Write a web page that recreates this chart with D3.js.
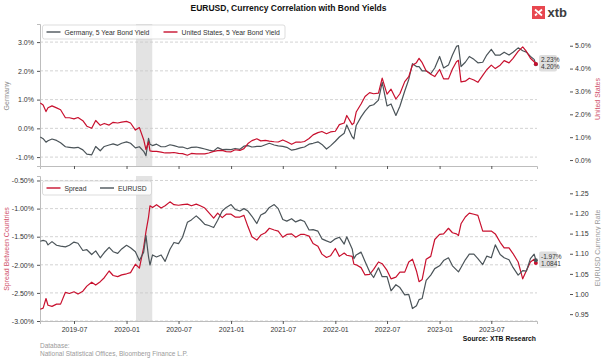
<!DOCTYPE html>
<html><head><meta charset="utf-8">
<script src="https://cdn.jsdelivr.net/npm/d3@7/dist/d3.min.js"></script>
<style>
body{margin:0;background:#fff;}
svg{display:block;font-family:"Liberation Sans",Arial,sans-serif;}
</style>
</head><body>
<svg id="chart" width="601" height="358"></svg>
<script>
// ---------- DATA ----------
const dates = ["2019-03-05","2019-03-15","2019-03-25","2019-04-01","2019-04-15","2019-05-01","2019-05-15","2019-06-01","2019-06-15","2019-07-01","2019-07-15","2019-08-01","2019-08-15","2019-09-01","2019-09-15","2019-10-01","2019-10-15","2019-11-01","2019-11-15","2019-12-01","2019-12-15",
"2020-01-01","2020-01-15","2020-02-01","2020-02-15","2020-03-01","2020-03-09","2020-03-18","2020-03-23","2020-04-01","2020-04-15","2020-05-01","2020-05-15","2020-06-01","2020-06-15","2020-07-01","2020-07-15","2020-08-01","2020-08-15","2020-09-01","2020-09-15","2020-10-01","2020-10-15","2020-11-01","2020-11-15","2020-12-01","2020-12-15",
"2021-01-01","2021-01-15","2021-02-01","2021-02-15","2021-03-01","2021-03-15","2021-04-01","2021-04-15","2021-05-01","2021-05-15","2021-06-01","2021-06-15","2021-07-01","2021-07-15","2021-08-01","2021-08-15","2021-09-01","2021-09-15","2021-10-01","2021-10-15","2021-11-01","2021-11-15","2021-12-01","2021-12-15",
"2022-01-01","2022-01-15","2022-02-01","2022-02-10","2022-03-01","2022-03-07","2022-03-15","2022-04-01","2022-04-15","2022-05-01","2022-05-15","2022-06-01","2022-06-14","2022-07-01","2022-07-15","2022-08-01","2022-08-15","2022-09-01","2022-09-15","2022-09-28","2022-10-12","2022-10-21","2022-11-01","2022-11-15","2022-12-01","2022-12-15",
"2023-01-01","2023-01-15","2023-02-01","2023-02-15","2023-03-01","2023-03-08","2023-03-17","2023-04-01","2023-04-15","2023-05-01","2023-05-15","2023-06-01","2023-06-15","2023-07-01","2023-07-15","2023-08-01","2023-08-15","2023-09-01","2023-09-15","2023-10-03","2023-10-19","2023-11-01","2023-11-15","2023-11-28","2023-12-04"];

const germany = [-0.30,-0.36,-0.48,-0.43,-0.37,-0.42,-0.50,-0.64,-0.66,-0.68,-0.66,-0.75,-0.90,-0.92,-0.63,-0.78,-0.63,-0.58,-0.54,-0.59,-0.52,
-0.47,-0.52,-0.68,-0.64,-0.80,-0.95,-0.35,-0.55,-0.60,-0.55,-0.64,-0.64,-0.57,-0.60,-0.65,-0.65,-0.71,-0.66,-0.65,-0.68,-0.72,-0.76,-0.79,-0.67,-0.74,-0.73,
-0.74,-0.70,-0.73,-0.62,-0.60,-0.65,-0.63,-0.63,-0.57,-0.52,-0.58,-0.61,-0.63,-0.66,-0.76,-0.73,-0.68,-0.65,-0.55,-0.52,-0.47,-0.56,-0.72,-0.61,
-0.45,-0.30,-0.17,0.12,-0.30,-0.37,0.10,0.40,0.60,0.78,0.82,0.98,1.60,0.78,0.85,0.45,0.77,1.30,1.70,2.25,2.15,2.15,2.00,2.00,1.90,2.10,
2.50,2.10,2.20,2.55,2.85,2.88,2.15,2.30,2.50,2.40,2.28,2.30,2.55,2.75,2.55,2.55,2.65,2.55,2.65,2.80,2.70,2.65,2.50,2.40,2.23];

const unitedStates = [2.49,2.41,2.12,2.29,2.37,2.28,2.20,1.85,1.85,1.80,1.86,1.72,1.48,1.39,1.73,1.52,1.60,1.53,1.65,1.62,1.66,
1.69,1.62,1.31,1.42,0.89,0.46,0.80,0.40,0.38,0.38,0.35,0.31,0.31,0.33,0.29,0.28,0.21,0.29,0.27,0.27,0.27,0.31,0.38,0.41,0.42,0.37,
0.36,0.45,0.42,0.50,0.72,0.85,0.93,0.84,0.86,0.83,0.80,0.79,0.88,0.80,0.69,0.78,0.78,0.81,0.94,1.10,1.20,1.25,1.15,1.23,
1.26,1.55,1.62,1.95,1.55,1.62,2.10,2.45,2.78,2.95,2.90,2.93,3.58,2.88,3.10,2.67,2.90,3.43,3.65,4.15,4.26,4.45,4.26,3.90,3.75,3.65,
3.96,3.55,3.55,3.98,4.30,4.36,3.42,3.45,3.58,3.50,3.40,3.70,3.95,4.15,4.00,4.15,4.35,4.25,4.45,4.75,4.95,4.75,4.45,4.30,4.20];

const spread = [-2.79,-2.77,-2.60,-2.72,-2.74,-2.70,-2.70,-2.49,-2.51,-2.48,-2.52,-2.47,-2.38,-2.31,-2.36,-2.30,-2.23,-2.11,-2.19,-2.21,-2.18,
-2.16,-2.14,-1.99,-2.06,-1.69,-1.41,-1.15,-0.95,-0.98,-0.93,-0.99,-0.95,-0.88,-0.93,-0.94,-0.93,-0.92,-0.95,-0.92,-0.95,-0.99,-1.07,-1.17,-1.08,-1.16,-1.10,
-1.10,-1.15,-1.15,-1.12,-1.32,-1.50,-1.56,-1.47,-1.43,-1.35,-1.38,-1.40,-1.51,-1.46,-1.45,-1.51,-1.46,-1.46,-1.49,-1.62,-1.67,-1.81,-1.87,-1.84,
-1.71,-1.85,-1.79,-1.83,-1.85,-1.99,-2.00,-2.05,-2.18,-2.17,-2.08,-1.95,-1.98,-2.10,-2.25,-2.22,-2.13,-2.13,-1.95,-1.90,-2.11,-2.30,-2.26,-1.90,-1.85,-1.55,
-1.46,-1.45,-1.35,-1.43,-1.45,-1.48,-1.27,-1.15,-1.08,-1.10,-1.12,-1.40,-1.40,-1.40,-1.45,-1.60,-1.70,-1.70,-1.80,-1.95,-2.25,-2.10,-1.95,-1.90,-1.97];

const eurusd = [1.131,1.133,1.131,1.122,1.130,1.121,1.119,1.117,1.121,1.129,1.126,1.108,1.110,1.098,1.107,1.090,1.103,1.116,1.105,1.101,1.112,
1.121,1.115,1.105,1.083,1.104,1.145,1.092,1.072,1.097,1.092,1.097,1.081,1.111,1.128,1.125,1.141,1.178,1.184,1.194,1.185,1.173,1.170,1.165,1.183,1.206,1.215,
1.222,1.210,1.206,1.212,1.206,1.193,1.175,1.196,1.202,1.215,1.222,1.212,1.185,1.181,1.187,1.179,1.184,1.180,1.159,1.160,1.156,1.137,1.132,1.128,
1.137,1.141,1.124,1.142,1.112,1.088,1.097,1.104,1.081,1.055,1.041,1.065,1.043,1.043,1.008,1.023,1.016,0.998,0.999,0.964,0.971,0.986,0.989,1.034,1.047,1.063,
1.070,1.083,1.090,1.070,1.060,1.055,1.066,1.085,1.099,1.099,1.088,1.073,1.094,1.090,1.122,1.098,1.090,1.085,1.066,1.047,1.058,1.057,1.088,1.099,1.0841];

const xTickLabels = ["2019-07","2020-01","2020-07","2021-01","2021-07","2022-01","2022-07","2023-01","2023-07"];
const germanyTicks = [-1,0,1,2,3];
const usTicks = [0,1,2,3,4,5];
const spreadTicks = [-3.0,-2.5,-2.0,-1.5,-1.0,-0.5];
const eurusdTicks = [0.95,1.00,1.05,1.10,1.15,1.20,1.25];
const shadedPeriod = ["2020-02-03","2020-03-31"];
const topLegend = ["Germany, 5 Year Bond Yield","United States, 5 Year Bond Yield"];
const bottomLegend = ["Spread","EURUSD"];

// ---------- SETUP ----------
const RED = "#c8102e", GREY = "#4b5459";
const parse = d3.timeParse("%Y-%m-%d");
const parseM = d3.timeParse("%Y-%m");
const T = dates.map(parse);
const svg = d3.select("#chart");

const L = 40, R = 537;
const top1 = 24, bot1 = 166, top2 = 176, bot2 = 321;

const x = d3.scaleTime().domain([parse("2019-03-04"), parse("2023-12-08")]).range([L, R]);
const yG = d3.scaleLinear().domain([-1.31, 3.63]).range([bot1, top1]);
const yU = d3.scaleLinear().domain([-0.26, 5.95]).range([bot1, top1]);
const yS = d3.scaleLinear().domain([-3.0, -0.42]).range([bot2, top2]);
const yE = d3.scaleLinear().domain([0.933, 1.293]).range([bot2, top2]);

// title
svg.append("text").attr("x", 288.5).attr("y", 10.5).attr("text-anchor","middle")
  .attr("font-size", 8.5).attr("font-weight","bold").attr("fill","#111")
  .text("EURUSD, Currency Correlation with Bond Yields");

// logo
const lg = svg.append("g");
lg.append("rect").attr("x",532).attr("y",6).attr("width",13).attr("height",13).attr("fill","#e8474f");
lg.append("path").attr("d","M535,9.5 L542,15.5 M542,9.5 L538.5,12.5 M535,15.5 L537,13.8")
  .attr("stroke","#fff").attr("stroke-width",1.8).attr("fill","none");
lg.append("text").attr("x",547.5).attr("y",16.5).attr("font-size",13).attr("font-weight","bold")
  .attr("fill","#3d3d3d").text("xtb");

function panel(yL, yR, top, bot, leftTicks, leftFmt, rightTicks, rightFmt) {
  const g = svg.append("g");
  g.append("rect").attr("x", x(parse(shadedPeriod[0]))).attr("y", top)
    .attr("width", x(parse(shadedPeriod[1])) - x(parse(shadedPeriod[0]))).attr("height", bot - top)
    .attr("fill", "#e3e3e3");
  g.selectAll("line.grid").data(leftTicks).join("line")
    .attr("x1", L).attr("x2", R).attr("y1", d => yL(d)).attr("y2", d => yL(d))
    .attr("stroke", "#c8c8c8").attr("stroke-width", 0.8).attr("stroke-dasharray", "3,2");
  const la = g.append("g").attr("transform", `translate(${L},0)`)
    .call(d3.axisLeft(yL).tickValues(leftTicks).tickFormat(leftFmt).tickSize(3).tickPadding(3));
  la.select(".domain").attr("stroke", "#bdbdbd");
  la.selectAll(".tick line").attr("stroke", "#555");
  la.selectAll("text").attr("font-size", 7).attr("fill", "#333").attr("font-family", "Liberation Sans, Arial, sans-serif");
  const ra = g.append("g").attr("transform", `translate(570,0)`)
    .call(d3.axisRight(yR).tickValues(rightTicks).tickFormat(rightFmt).tickSize(3).tickPadding(2));
  ra.select(".domain").remove();
  ra.selectAll(".tick line").attr("stroke", "#555");
  ra.selectAll("text").attr("font-size", 7).attr("fill", "#333").attr("font-family", "Liberation Sans, Arial, sans-serif");
  const ba = g.append("g").attr("transform", `translate(0,${bot})`)
    .call(d3.axisBottom(x).tickValues(xTickLabels.map(parseM)).tickFormat(d3.timeFormat("%Y-%m")).tickSize(3).tickPadding(3));
  ba.select(".domain").attr("stroke", "#bdbdbd");
  ba.selectAll(".tick line").attr("stroke", "#555");
  ba.selectAll("text").attr("font-size", 7).attr("fill", "#333").attr("font-family", "Liberation Sans, Arial, sans-serif");
  return {g, ba};
}

const p1 = panel(yG, yU, top1, bot1, germanyTicks, d => d.toFixed(1) + "%", usTicks, d => d.toFixed(1) + "%");
p1.ba.selectAll("text").remove();
const p2 = panel(yS, yE, top2, bot2, spreadTicks, d => d.toFixed(2) + "%", eurusdTicks, d => d.toFixed(2));

function drawLine(vals, ys, color) {
  const line = d3.line().x((d, i) => x(T[i])).y(d => ys(d));
  svg.append("path").datum(vals).attr("d", line).attr("fill", "none")
    .attr("stroke", color).attr("stroke-width", 1.2).attr("stroke-linejoin", "round");
  const n = vals.length - 1;
  svg.append("circle").attr("cx", x(T[n])).attr("cy", ys(vals[n])).attr("r", 2).attr("fill", color);
}
drawLine(germany, yG, GREY);
drawLine(unitedStates, yU, RED);
drawLine(spread, yS, RED);
drawLine(eurusd, yE, GREY);

function endLabel(y0, l1, l2) {
  svg.append("rect").attr("x", 539).attr("y", y0).attr("width", 18).attr("height", 16.5)
    .attr("rx", 2).attr("fill", "#dedede");
  svg.append("text").attr("x", 541).attr("y", y0 + 7).attr("font-size", 6.5).attr("fill", "#333").text(l1);
  svg.append("text").attr("x", 541).attr("y", y0 + 14.3).attr("font-size", 6.5).attr("fill", "#333").text(l2);
}
const n = dates.length - 1;
endLabel(55, germany[n].toFixed(2) + "%", unitedStates[n].toFixed(2) + "%");
endLabel(251.5, spread[n].toFixed(2) + "%", eurusd[n].toFixed(4));

function legend(yTop, w, items) {
  const g = svg.append("g");
  g.append("rect").attr("x", 42.5).attr("y", yTop).attr("width", w).attr("height", 14)
    .attr("rx", 2).attr("fill", "#fff").attr("fill-opacity", 0.85).attr("stroke", "#cfcfcf").attr("stroke-width", 0.7);
  items.forEach(it => {
    g.append("line").attr("x1", it.lx).attr("x2", it.lx + 14).attr("y1", yTop + 7).attr("y2", yTop + 7)
      .attr("stroke", it.c).attr("stroke-width", 1.4);
    g.append("text").attr("x", it.lx + 18).attr("y", yTop + 9.5).attr("font-size", 6.8).attr("fill", "#333").text(it.t);
  });
}
legend(25, 242.5, [{lx: 46.5, c: GREY, t: topLegend[0]}, {lx: 163.5, c: RED, t: topLegend[1]}]);
legend(181, 109, [{lx: 46.5, c: RED, t: bottomLegend[0]}, {lx: 100, c: GREY, t: bottomLegend[1]}]);

function vTitle(xp, yp, txt, color) {
  svg.append("text").attr("transform", `translate(${xp},${yp}) rotate(-90)`).attr("text-anchor", "middle")
    .attr("font-size", 7).attr("fill", color).text(txt);
}
vTitle(9, 96, "Germany", "#8a8a8a");
vTitle(599.5, 99, "United States", "#d0506a");
vTitle(9, 249, "Spread Between Countries", "#d0506a");
vTitle(599.5, 248, "EURUSD Currency Rate", "#9a9a9a");

svg.append("text").attr("x", 40).attr("y", 348).attr("font-size", 6.5).attr("fill", "#9a9a9a").text("Database:");
svg.append("text").attr("x", 40).attr("y", 356).attr("font-size", 6.5).attr("fill", "#9a9a9a").text("National Statistical Offices, Bloomberg Finance L.P.");
svg.append("text").attr("x", 536).attr("y", 340.5).attr("text-anchor", "end").attr("font-size", 6.8)
  .attr("font-weight", "bold").attr("fill", "#111").text("Source: XTB Research");
</script>
</body></html>
